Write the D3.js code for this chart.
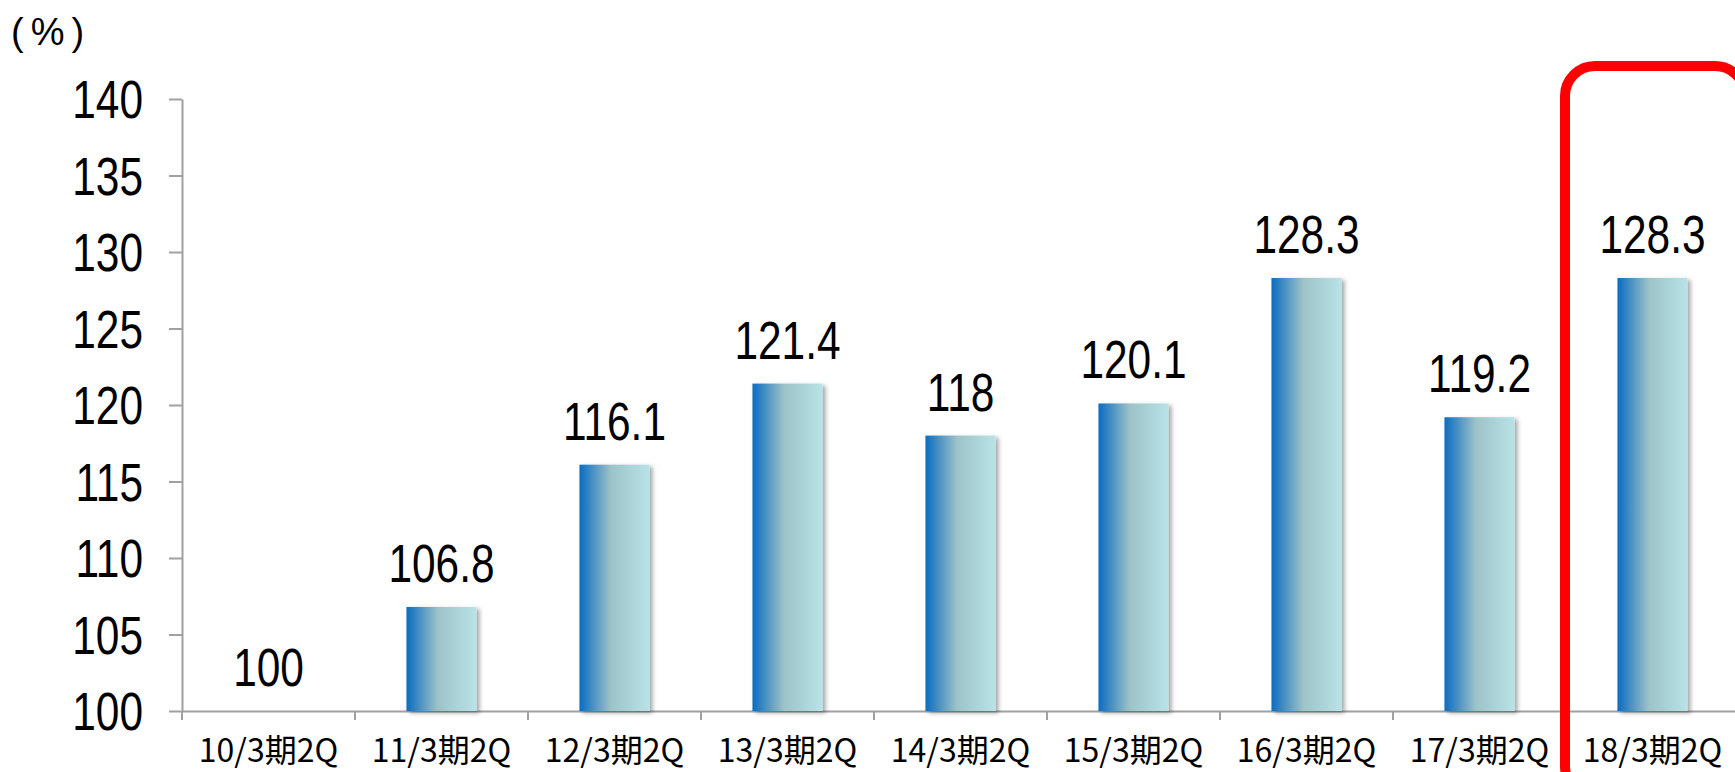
<!DOCTYPE html>
<html>
<head>
<meta charset="utf-8">
<script src="https://cdn.jsdelivr.net/npm/d3@7"></script>
<style>
  body { margin: 0; background: #fff; }
  svg { display: block; }
  .num { font-family: "Liberation Sans", Arial, sans-serif; fill: #000; }
  .cat { font-family: "Noto Sans CJK JP", sans-serif; fill: #000; }
</style>
</head>
<body>
<svg id="chart" width="1735" height="772"></svg>
<script>
"use strict";

// chart data
const categories = ["10/3期2Q", "11/3期2Q", "12/3期2Q", "13/3期2Q", "14/3期2Q",
                    "15/3期2Q", "16/3期2Q", "17/3期2Q", "18/3期2Q"]
const values = [100, 106.8, 116.1, 121.4, 118, 120.1, 128.3, 119.2, 128.3]
const yTicks = [100, 105, 110, 115, 120, 125, 130, 135, 140]
const highlighted = "18/3期2Q"

const svg = d3.select("#chart")
const left = 182, baseY = 711, topY = 99, step = 173

const x = d3.scaleBand()
    .domain(categories)
    .range([left, left + step * categories.length])
const y = d3.scaleLinear().domain([100, 140]).range([baseY, topY])
const barW = x.bandwidth() * 0.405

// gradient + shadow for the bars
const defs = svg.append("defs")
const grad = defs.append("linearGradient")
    .attr("id", "barGrad")
    .attr("x1", "0%").attr("x2", "100%").attr("y1", "0%").attr("y2", "0%")
grad.append("stop").attr("offset", "0%").attr("stop-color", "#0a6cc2")
grad.append("stop").attr("offset", "45%").attr("stop-color", "#9dc3c7")
grad.append("stop").attr("offset", "100%").attr("stop-color", "#b9e3e8")
const shadow = defs.append("filter").attr("id", "shadow")
    .attr("x", "-20%").attr("y", "-20%").attr("width", "150%").attr("height", "150%")
shadow.append("feDropShadow")
    .attr("dx", 3).attr("dy", 2).attr("stdDeviation", 2)
    .attr("flood-color", "#000").attr("flood-opacity", 0.35)

// y axis
const yAxis = svg.append("g")
    .attr("transform", `translate(${left},0)`)
    .call(d3.axisLeft(y).tickValues(yTicks).tickSize(13).tickSizeOuter(0).tickFormat(d3.format("d")))
yAxis.selectAll("path, line").attr("stroke", "#a0a0a0").attr("stroke-width", 2)
yAxis.selectAll("text")
    .attr("class", "num")
    .attr("x", 0)
    .attr("dy", "0.35em")
    .attr("transform", "translate(-39,0) scale(0.8,1)")
    .attr("font-size", null).attr("font-family", null)
    .style("font-size", "53px")

// x axis
const xAxis = svg.append("g")
    .attr("transform", `translate(0,${baseY})`)
    .call(d3.axisBottom(x).tickSize(0).tickPadding(0).tickSizeOuter(0))
xAxis.select(".domain").attr("stroke", "#a0a0a0").attr("stroke-width", 2)
xAxis.selectAll("text")
    .attr("class", "cat")
    .attr("y", 51)
    .attr("dy", null)
    .attr("font-size", null).attr("font-family", null)
    .style("font-size", "32px")
xAxis.selectAll(".bound")
    .data(categories)
    .enter()
    .append("line")
    .attr("class", "bound")
    .attr("x1", c => x(c)).attr("x2", c => x(c))
    .attr("y1", 0).attr("y2", 9)
    .attr("stroke", "#a0a0a0").attr("stroke-width", 2)

// bars
const data = categories.map((c, i) => ({ cat: c, value: values[i] }))
svg.selectAll(".bar")
    .data(data)
    .enter()
    .append("rect")
    .attr("class", "bar")
    .attr("x", d => x(d.cat) + (x.bandwidth() - barW) / 2)
    .attr("y", d => y(d.value))
    .attr("width", barW)
    .attr("height", d => y(100) - y(d.value))
    .attr("fill", "url(#barGrad)")
    .attr("filter", "url(#shadow)")

// value labels
svg.selectAll(".val")
    .data(data)
    .enter()
    .append("text")
    .attr("class", "num val")
    .attr("text-anchor", "middle")
    .attr("transform", d => `translate(${x(d.cat) + x.bandwidth() / 2},${y(d.value) - 25}) scale(0.8,1)`)
    .style("font-size", "53px")
    .text(d => d.value)

// unit label
svg.append("text")
    .attr("class", "num")
    .attr("x", 11)
    .attr("y", 45)
    .style("font-size", "38px")
    .style("letter-spacing", "7px")
    .text("(%)")

// highlight box round the latest period
svg.append("rect")
    .attr("x", x(highlighted) - 1)
    .attr("y", 66)
    .attr("width", 180)
    .attr("height", 730)
    .attr("rx", 30)
    .attr("fill", "none")
    .attr("stroke", "#ff0000")
    .attr("stroke-width", 10)
</script>
</body>
</html>
